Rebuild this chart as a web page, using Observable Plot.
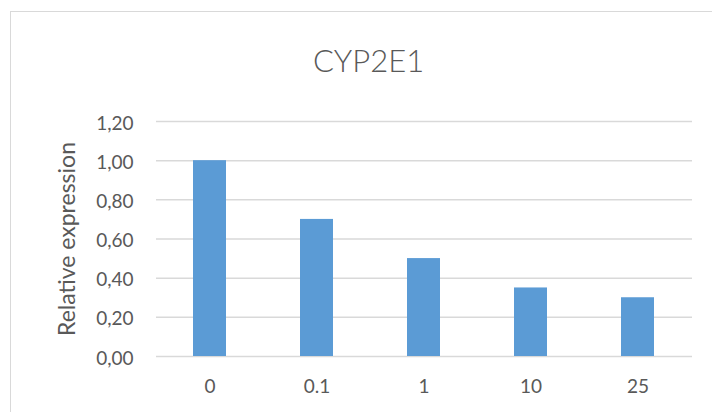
<!DOCTYPE html>
<html>
<head>
<meta charset="utf-8">
<script src="https://cdn.jsdelivr.net/npm/d3@7"></script>
<script src="https://cdn.jsdelivr.net/npm/@observablehq/plot@0.6"></script>
<style>
  html, body { margin: 0; padding: 0; background: #fff; overflow: hidden; }
  #wrap { position: relative; width: 712px; height: 412px; overflow: hidden; }
  #frame { position: absolute; left: 10px; top: 11px; width: 900px; height: 600px;
           border-left: 1.5px solid #d9d9d9; border-top: 1.5px solid #d9d9d9; box-sizing: border-box; }
  #chart { position: absolute; left: 0; top: 0; }
</style>
</head>
<body>
<div id="wrap"><div id="frame"></div><div id="chart"></div></div>
<script>
const title = "CYP2E1";
const yLabel = "Relative expression";
const categories = ["0", "0.1", "1", "10", "25"];
const values = [1.00, 0.70, 0.50, 0.35, 0.30];
const yTicks = [0, 0.2, 0.4, 0.6, 0.8, 1.0, 1.2];

const data = categories.map((c, i) => ({ dose: c, value: values[i] }));
const fmt = d => d3.format(".2f")(d).replace(".", ",");
const textColor = "#595959";

const plot = Plot.plot({
  width: 712,
  height: 412,
  marginLeft: 156,
  marginRight: 20,
  marginTop: 121,
  marginBottom: 56,
  style: { fontFamily: "Lato, sans-serif", fontSize: "19px", color: textColor, background: "transparent", overflow: "visible" },
  x: { domain: categories, paddingInner: 0.69, paddingOuter: 0.345, label: null },
  y: { domain: [0, 1.2], label: null },
  marks: [
    Plot.ruleY(yTicks, { stroke: "#d9d9d9", strokeWidth: 1.5 }),
    Plot.barY(data, { x: "dose", y: "value", fill: "#5b9bd5" }),
    Plot.axisX({ tickSize: 0, tickPadding: 23, fontSize: 19, fill: textColor, label: null }),
    Plot.axisY({ ticks: yTicks, tickFormat: fmt, tickSize: 0, tickPadding: 23, dy: 2, fontSize: 19, fill: textColor, label: null }),
    Plot.text([title], { frameAnchor: "top-left", dx: 212, dy: -59, text: d => d, fontSize: 31, fontWeight: 300, fill: textColor, textAnchor: "middle", lineAnchor: "middle" }),
    Plot.text([yLabel], { frameAnchor: "left", dx: -89, rotate: -90, text: d => d, fontSize: 23, fill: textColor, textAnchor: "middle", lineAnchor: "middle" })
  ]
});
document.getElementById("chart").appendChild(plot);
</script>
</body>
</html>
